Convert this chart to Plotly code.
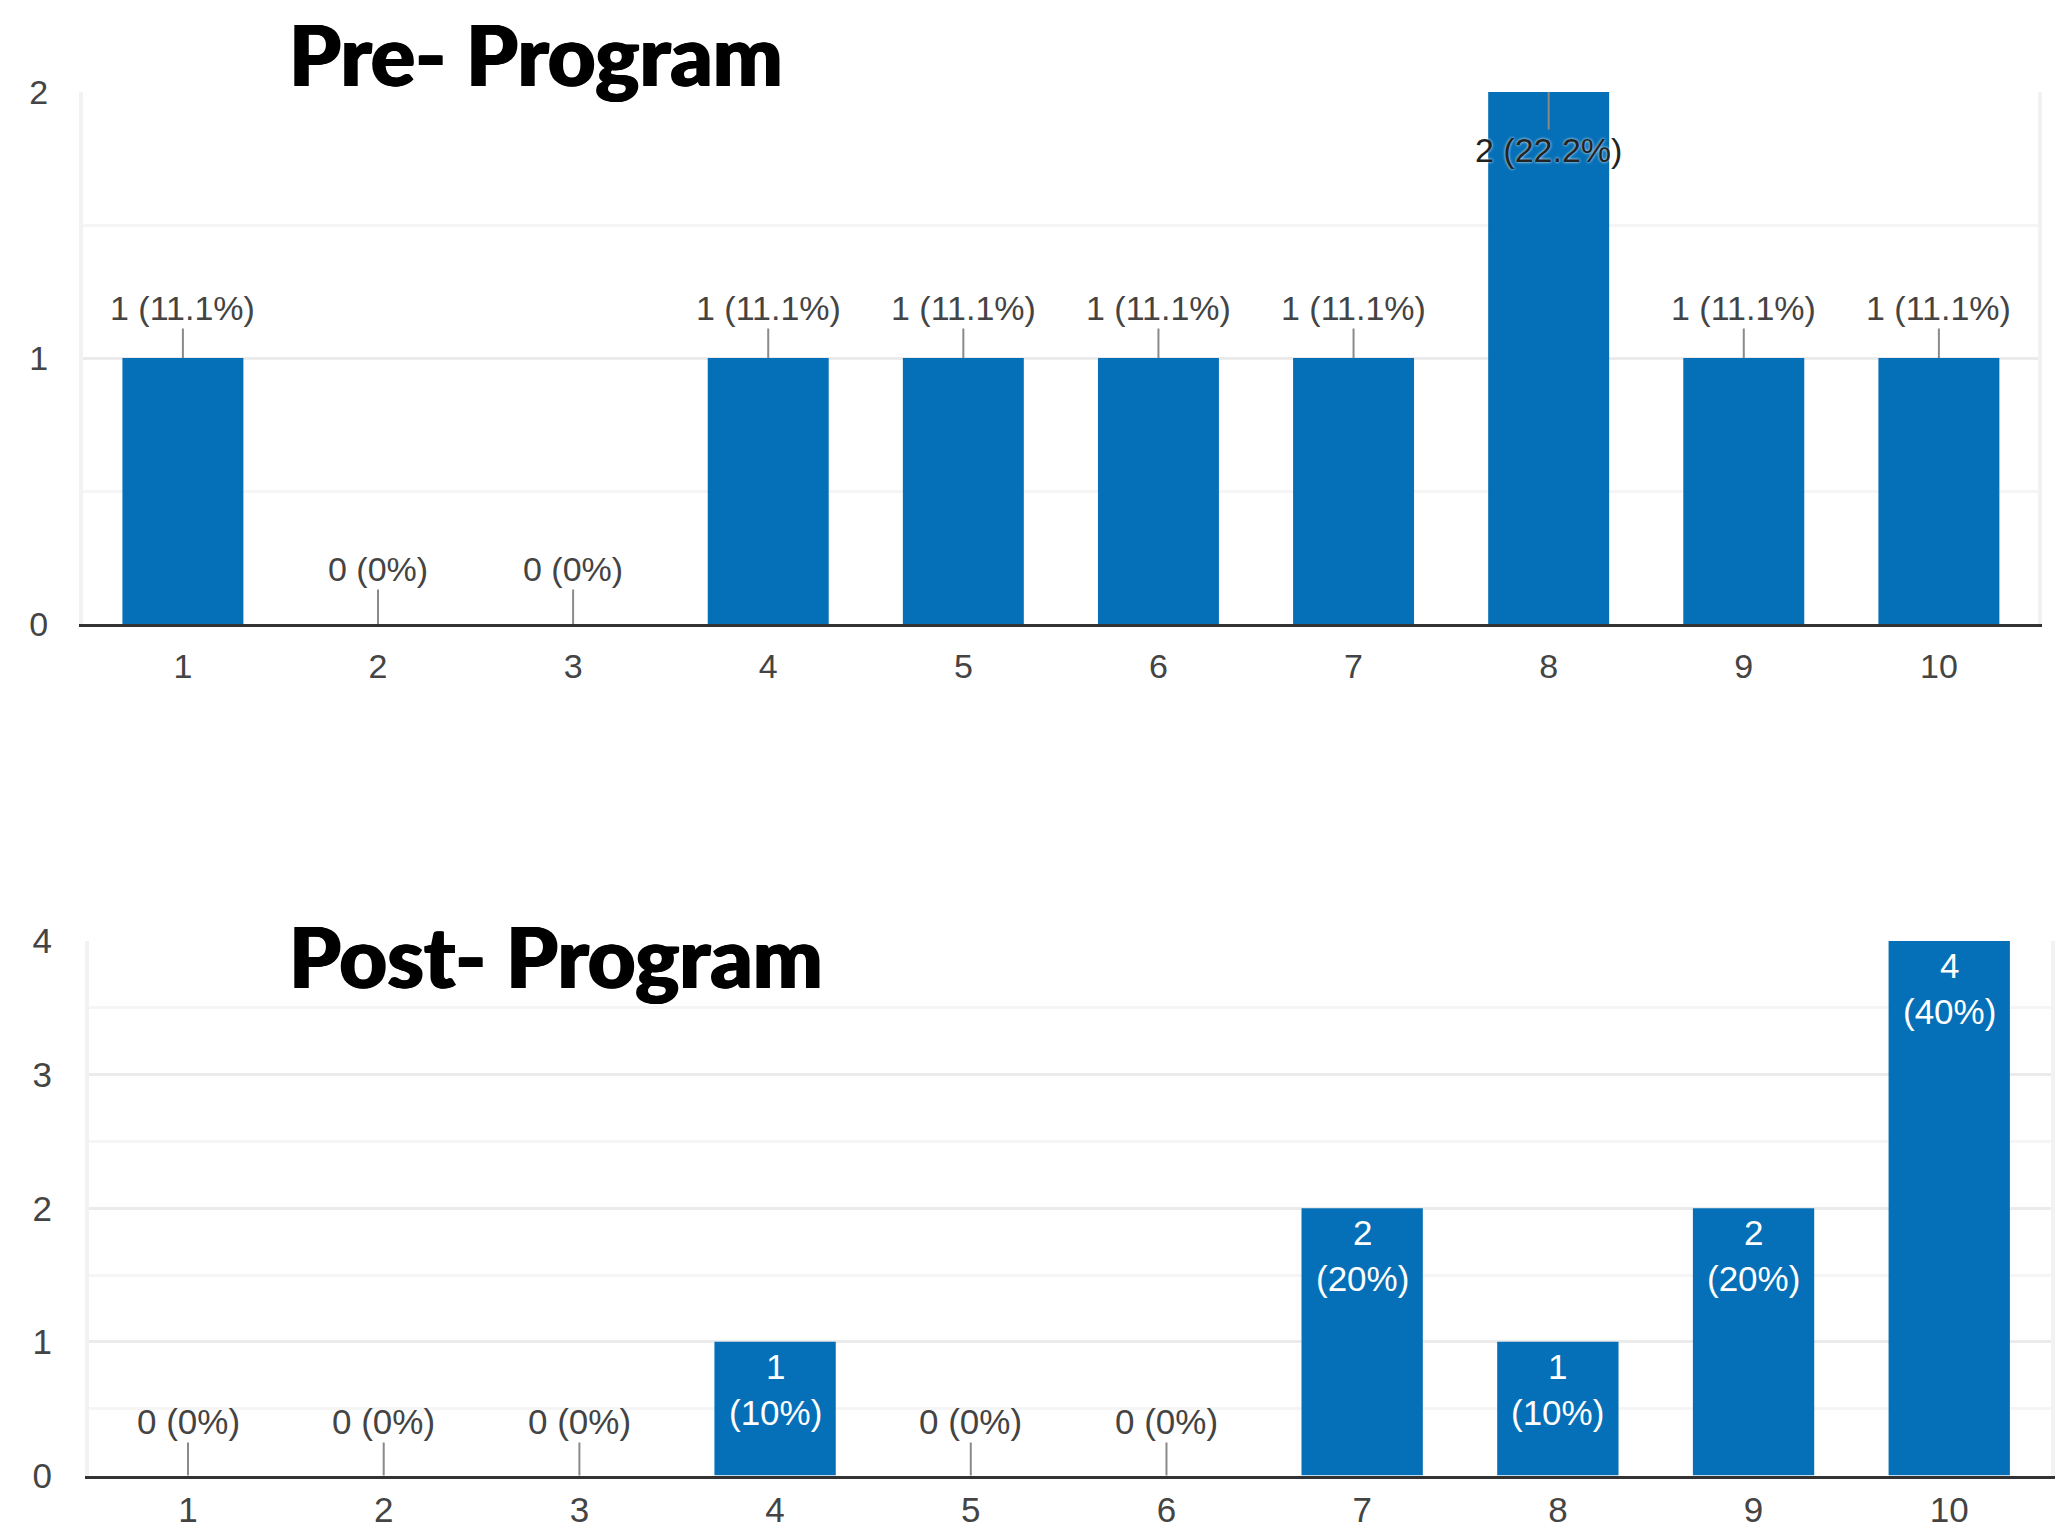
import plotly.graph_objects as go

# ---- data ----
categories = [1, 2, 3, 4, 5, 6, 7, 8, 9, 10]
tick_labels = ["1", "2", "3", "4", "5", "6", "7", "8", "9", "10"]

pre_counts = [1, 0, 0, 1, 1, 1, 1, 2, 1, 1]
pre_pct = ["11.1%", "0%", "0%", "11.1%", "11.1%", "11.1%", "11.1%", "22.2%", "11.1%", "11.1%"]

post_counts = [0, 0, 0, 1, 0, 0, 2, 1, 2, 4]
post_pct = ["0%", "0%", "0%", "10%", "0%", "0%", "20%", "10%", "20%", "40%"]

pre_title = "Pre- Program"
post_title = "Post- Program"

# ---- style ----
W, H = 2055, 1527
BAR = "#0570B7"
FAM = "Liberation Sans, Arial, sans-serif"
PRE_FONT = dict(family=FAM, size=34, color="#444444")
POST_FONT = dict(family=FAM, size=35, color="#444444")
TITLE_FONT = dict(family="Lato, sans-serif", size=83, color="#000000", weight=900,
                  shadow="1px 0px 0px #000, -1px 0px 0px #000")


def px_x(p):
    return p / W


def px_y(p):
    return 1 - p / H


fig = go.Figure()

fig.add_trace(go.Bar(x=categories, y=pre_counts, width=0.62, marker=dict(color=BAR, line=dict(width=0)),
                     xaxis="x", yaxis="y", hoverinfo="skip", showlegend=False))
fig.add_trace(go.Bar(x=categories, y=post_counts, width=0.62, marker=dict(color=BAR, line=dict(width=0)),
                     xaxis="x2", yaxis="y2", hoverinfo="skip", showlegend=False))

annotations = []
# pre labels
pre_max = 2
for c, v, p in zip(categories, pre_counts, pre_pct):
    if v >= pre_max:
        annotations.append(dict(x=c, y=v, xref="x", yref="y", text=f"{v} ({p})", showarrow=True,
                                ax=0, ay=58, arrowhead=0, arrowwidth=2, arrowcolor="#8a8a8a", standoff=0,
                                font=dict(family=FAM, size=34, color="#222222",
                                          shadow="0px 0px 3px white")))
    else:
        annotations.append(dict(x=c, y=v, xref="x", yref="y", text=f"{v} ({p})", showarrow=True,
                                ax=0, ay=-50 if v > 0 else -55, arrowhead=0, arrowwidth=2,
                                arrowcolor="#8a8a8a", standoff=0, font=PRE_FONT))
# post labels
for c, v, p in zip(categories, post_counts, post_pct):
    if v == 0:
        annotations.append(dict(x=c, y=v, xref="x2", yref="y2", text=f"{v} ({p})", showarrow=True,
                                ax=0, ay=-54, arrowhead=0, arrowwidth=2, arrowcolor="#8a8a8a",
                                standoff=0, font=POST_FONT))
    else:
        annotations.append(dict(x=c, y=v, xref="x2", yref="y2", text=f"{v}<br>({p})", showarrow=False,
                                yanchor="top", yshift=-3,
                                font=dict(family=FAM, size=35, color="#ffffff")))

# titles
annotations.append(dict(x=px_x(287), y=px_y(54), xref="paper", yref="paper", xanchor="left",
                        yanchor="middle", text=pre_title, showarrow=False, font=TITLE_FONT))
annotations.append(dict(x=px_x(287), y=px_y(956), xref="paper", yref="paper", xanchor="left",
                        yanchor="middle", text=post_title, showarrow=False, font=TITLE_FONT))


def xax(font, ticklen):
    return dict(tickmode="array", tickvals=categories, ticktext=tick_labels, showgrid=False,
                zeroline=False, showline=True, linecolor="#333333", linewidth=3,
                ticks="outside", ticklen=ticklen, tickcolor="rgba(0,0,0,0)", automargin=False,
                tickfont=font, fixedrange=True)


def yax(font, standoff):
    return dict(dtick=1, showgrid=True, gridcolor="#ebebeb", gridwidth=3, zeroline=False,
                showline=True, mirror=True, linecolor="#f2f2f2", linewidth=4,
                minor=dict(dtick=0.5, showgrid=True, gridcolor="#f5f5f5", gridwidth=3),
                ticks="", ticklabelstandoff=standoff, tickfont=font, automargin=False,
                fixedrange=True)


fig.update_layout(
    width=W, height=H, autosize=False,
    margin=dict(l=0, r=0, t=0, b=0, pad=0, autoexpand=False),
    paper_bgcolor="white", plot_bgcolor="white",
    xaxis=dict(domain=[px_x(83), px_x(2038)], range=[0.488, 10.508], anchor="y", **xax(PRE_FONT, 10)),
    yaxis=dict(domain=[px_y(624), px_y(92)], range=[0, 2], anchor="x", **yax(PRE_FONT, 24)),
    xaxis2=dict(domain=[px_x(89), px_x(2051)], range=[0.494, 10.52], anchor="y2", **xax(POST_FONT, 1)),
    yaxis2=dict(domain=[px_y(1475.5), px_y(941)], range=[0, 4], anchor="x2", **yax(POST_FONT, 26)),
    annotations=annotations,
)

fig.write_html("out.html", config={"displayModeBar": False},
               post_script="document.body.style.margin='0';document.body.style.overflow='hidden';")
